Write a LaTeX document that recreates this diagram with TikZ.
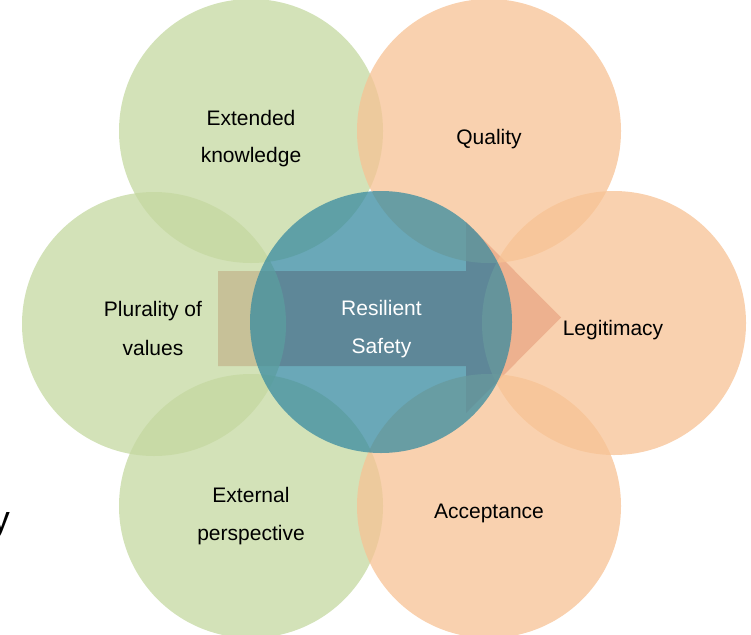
\documentclass[tikz,border=0pt]{standalone}
\usepackage{fontspec}
\setmainfont{Liberation Sans}
\definecolor{cgreen}{RGB}{196,216,160}
\definecolor{corange}{RGB}{247,194,148}
\definecolor{cteal}{RGB}{56,139,160}
\definecolor{carrow}{RGB}{210,127,130}
\tikzset{
  bub/.style={circle, draw=none, fill opacity=0.75, minimum size=264pt, inner sep=0pt},
  lbl/.style={anchor=base, inner sep=0pt, font=\fontsize{21}{25}\selectfont, text=black},
  wlbl/.style={lbl, text=white}
}
\begin{document}
\begin{tikzpicture}[x=1pt,y=-1pt]
\useasboundingbox (0,0) rectangle (751,634);
% arrow behind everything
\fill[carrow] (218,271) -- (466,271) -- (466,222) -- (561,317.5) -- (466,413) -- (466,366) -- (218,366) -- cycle;
% outer circles
\node[bub, fill=cgreen] (ek) at (251,131) {};
\node[bub, fill=cgreen] (pv) at (154,324) {};
\node[bub, fill=cgreen] (ep) at (251,506) {};
\node[bub, fill=corange] (qu) at (489,131) {};
\node[bub, fill=corange] (le) at (614,323) {};
\node[bub, fill=corange] (ac) at (489,506) {};
% central circle
\node[bub, fill=cteal, minimum size=262pt] (rs) at (381,322) {};
% labels
\node[lbl] (ek1) at (251,125.7) {Extended};
\node[lbl] (ek2) at (251,162.5) {knowledge};
\node[lbl] (qu1) at (489,144) {Quality};
\node[lbl] (pv1) at (153,316) {Plurality of};
\node[lbl] (pv2) at (153,355) {values};
\node[lbl] (le1) at (613,335) {Legitimacy};
\node[wlbl] (rs1) at (381.5,315) {Resilient};
\node[wlbl] (rs2) at (381.5,353) {Safety};
\node[lbl] (ep1) at (251,502) {External};
\node[lbl] (ep2) at (251,540) {perspective};
\node[lbl] (ac1) at (489,518) {Acceptance};
% stray letter at left edge
\node[anchor=base east, inner sep=0pt, font=\fontsize{36}{40}\selectfont] (yy) at (10,531) {y};
\end{tikzpicture}
\end{document}
